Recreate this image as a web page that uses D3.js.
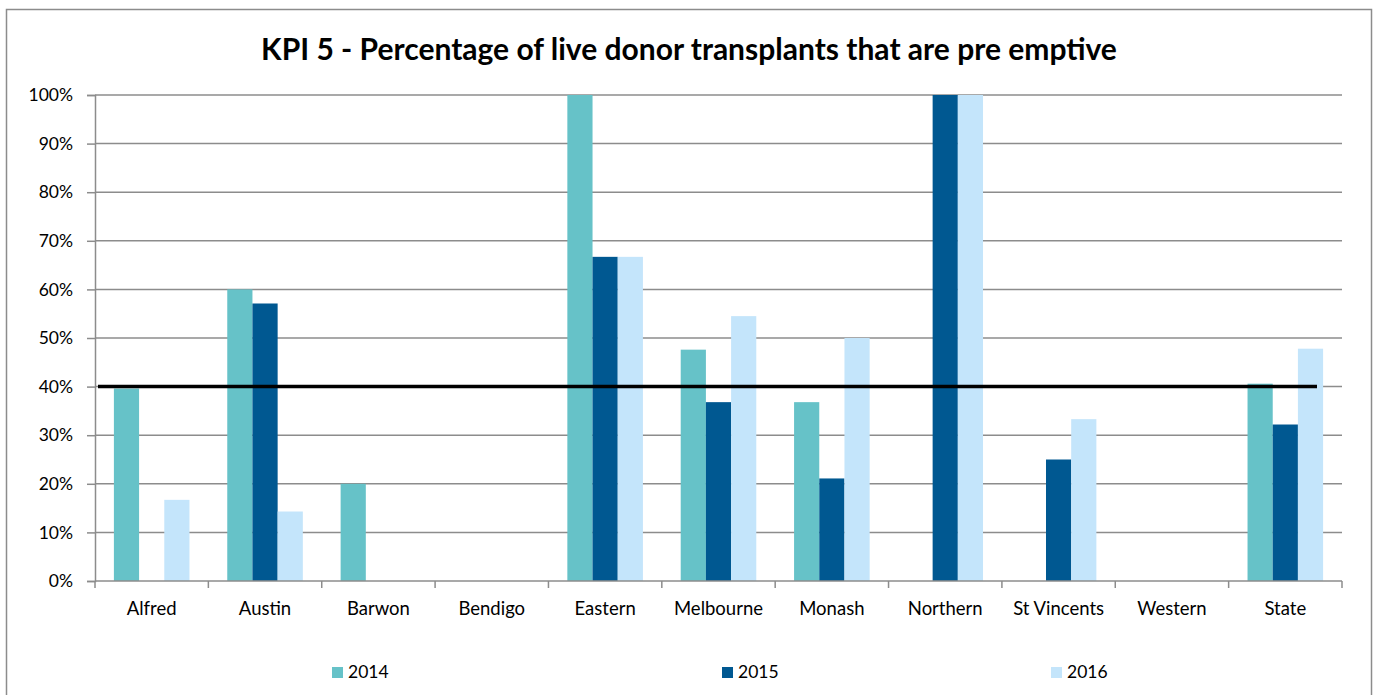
<!DOCTYPE html>
<html>
<head>
<meta charset="utf-8">
<script src="https://cdn.jsdelivr.net/npm/d3@7"></script>
<style>
  body { margin: 0; background: #fff; }
  text { font-family: Lato, "Open Sans", sans-serif; fill: #000; }
</style>
</head>
<body>
<script>
// hospitals + the three years of pre emptive %
const categories = ["Alfred", "Austin", "Barwon", "Bendigo", "Eastern", "Melbourne",
                    "Monash", "Northern", "St Vincents", "Western", "State"];
const years = ["2014", "2015", "2016"];
const v2014 = [39.6, 60, 20, 0, 100, 47.6, 36.8, 0, 0, 0, 40.6];
const v2015 = [0, 57.1, 0, 0, 66.7, 36.8, 21.1, 100, 25, 0, 32.2];
const v2016 = [16.7, 14.3, 0, 0, 66.7, 54.5, 50, 100, 33.3, 0, 47.8];
const target = 40;
const yTicks = [0, 10, 20, 30, 40, 50, 60, 70, 80, 90, 100];
const colors = ["#66c2c8", "#005891", "#c4e5fb"];

const series = [v2014, v2015, v2016];

const W = 1378, H = 695;
const pLeft = 95, pRight = 1342, pTop = 95, pBottom = 581;

const svg = d3.select("body").append("svg")
    .attr("width", W).attr("height", H);

// outer chart border
svg.append("rect")
    .attr("x", 6.5).attr("y", 9.5)
    .attr("width", 1365).attr("height", 700)
    .attr("fill", "#fff")
    .attr("stroke", "#8c8c8c").attr("stroke-width", 1.5);

svg.append("text")
    .attr("x", 689).attr("y", 60)
    .attr("text-anchor", "middle")
    .style("font-size", "30px").style("font-weight", "bold")
    .text("KPI 5 - Percentage of live donor transplants that are pre emptive");

const x = d3.scaleBand().domain(categories)
    .range([pLeft, pRight]).paddingInner(1 / 3).paddingOuter(1 / 6);
const xs = d3.scaleBand().domain(years).range([0, x.bandwidth()]);
const y = d3.scaleLinear().domain([0, 100]).range([pBottom, pTop]);

// gridlines
svg.append("g").selectAll("line")
  .data(yTicks.filter(d => d > 0))
  .enter().append("line")
    .attr("x1", pLeft).attr("x2", pRight)
    .attr("y1", d => y(d)).attr("y2", d => y(d))
    .attr("stroke", "#8c8c8c").attr("stroke-width", 1.5);

// y axis
const yAxis = svg.append("g")
    .attr("transform", `translate(${pLeft},0)`)
    .call(d3.axisLeft(y).tickValues(yTicks).tickFormat(d => d + "%").tickSizeOuter(0).tickSize(8).tickPadding(14));
yAxis.selectAll("line, path").attr("stroke", "#8c8c8c").attr("stroke-width", 1.5);
yAxis.selectAll("text").style("font-size", "17.5px").style("font-family", "Lato, sans-serif").attr("fill", "#000");

// bars
const groups = svg.append("g").selectAll("g")
  .data(categories)
  .enter().append("g")
    .attr("transform", d => `translate(${x(d)},0)`);

groups.selectAll("rect")
  .data((d, i) => years.map((yr, k) => ({ yr: yr, k: k, v: series[k][i] })))
  .enter().append("rect")
    .filter(d => d.v > 0)
    .attr("x", d => xs(d.yr))
    .attr("width", xs.bandwidth())
    .attr("y", d => y(d.v))
    .attr("height", d => pBottom - y(d.v))
    .attr("fill", d => colors[d.k]);

// x axis line and ticks at category boundaries
const xAxis = svg.append("g");
xAxis.append("line")
    .attr("x1", pLeft).attr("x2", pRight)
    .attr("y1", pBottom).attr("y2", pBottom)
    .attr("stroke", "#8c8c8c").attr("stroke-width", 1.5);
const edges = categories.map(c => x(c) - x.step() * x.paddingInner() / 2).concat([pRight]);
xAxis.selectAll("line.tk")
  .data(edges)
  .enter().append("line").attr("class", "tk")
    .attr("x1", d => d).attr("x2", d => d)
    .attr("y1", pBottom).attr("y2", pBottom + 7)
    .attr("stroke", "#8c8c8c").attr("stroke-width", 1.5);
xAxis.selectAll("text")
  .data(categories)
  .enter().append("text")
    .attr("x", d => x(d) + x.bandwidth() / 2)
    .attr("y", 615)
    .attr("text-anchor", "middle")
    .style("font-size", "18.5px")
    .text(d => d);

// 40% target line
svg.append("line")
    .attr("x1", pLeft + 3).attr("x2", pRight - 25)
    .attr("y1", y(target)).attr("y2", y(target))
    .attr("stroke", "#000").attr("stroke-width", 3.5);

// legend
const legendX = [332, 722, 1051];
const legend = svg.append("g").selectAll("g")
  .data(years)
  .enter().append("g")
    .attr("transform", (d, i) => `translate(${legendX[i]},667)`);
legend.append("rect")
    .attr("width", 11).attr("height", 11)
    .attr("fill", (d, i) => colors[i]);
legend.append("text")
    .attr("x", 16).attr("y", 11)
    .style("font-size", "17.5px")
    .text(d => d);
</script>
</body>
</html>
